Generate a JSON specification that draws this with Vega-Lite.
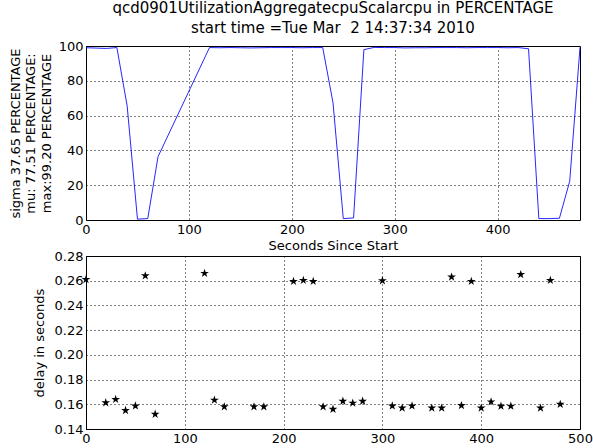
{
  "$schema": "https://vega.github.io/schema/vega-lite/v6.json",
  "padding": {"left": 8, "top": 0, "right": 0, "bottom": 0},
  "spacing": 36,
  "bounds": "flush",
  "config": {
    "font": "DejaVu Sans",
    "view": {"stroke": "black", "strokeWidth": 1},
    "axis": {
      "domain": false,
      "grid": true,
      "gridColor": "black",
      "gridDash": [1, 3],
      "gridOpacity": 1,
      "gridWidth": 1,
      "ticks": false,
      "labelFontSize": 13,
      "labelColor": "black",
      "labelFlush": false,
      "labelOverlap": false,
      "labelPadding": 3,
      "titleFontSize": 13,
      "titleFontWeight": "normal",
      "titleColor": "black"
    },
    "title": {"fontSize": 15, "fontWeight": "normal", "color": "black", "lineHeight": 20}
  },
  "datasets": {
    "cpu": [
      {"t": 0, "v": 99.0}, {"t": 10, "v": 98.8}, {"t": 20, "v": 98.6}, {"t": 30, "v": 99.1},
      {"t": 40, "v": 65.5}, {"t": 50, "v": 0.5}, {"t": 60, "v": 0.8}, {"t": 70, "v": 36.4},
      {"t": 120, "v": 99.1}, {"t": 130, "v": 99.0}, {"t": 140, "v": 99.1}, {"t": 150, "v": 99.0},
      {"t": 160, "v": 98.9}, {"t": 170, "v": 99.0}, {"t": 180, "v": 99.1}, {"t": 190, "v": 99.1},
      {"t": 200, "v": 99.1}, {"t": 210, "v": 99.0}, {"t": 220, "v": 99.1}, {"t": 230, "v": 99.1},
      {"t": 240, "v": 67.4}, {"t": 250, "v": 0.8}, {"t": 260, "v": 1.2}, {"t": 270, "v": 97.9},
      {"t": 280, "v": 99.2}, {"t": 290, "v": 99.1}, {"t": 300, "v": 99.1}, {"t": 310, "v": 98.9},
      {"t": 320, "v": 99.0}, {"t": 330, "v": 99.0}, {"t": 340, "v": 99.1}, {"t": 350, "v": 99.1},
      {"t": 360, "v": 99.1}, {"t": 370, "v": 99.0}, {"t": 380, "v": 99.1}, {"t": 390, "v": 99.1},
      {"t": 400, "v": 99.1}, {"t": 410, "v": 99.0}, {"t": 420, "v": 99.1}, {"t": 430, "v": 98.4},
      {"t": 440, "v": 0.8}, {"t": 450, "v": 0.8}, {"t": 460, "v": 1.0}, {"t": 470, "v": 22.3},
      {"t": 480, "v": 99.2}
    ],
    "delay": [
      {"t": 0, "d": 0.261}, {"t": 20, "d": 0.1613}, {"t": 30, "d": 0.164}, {"t": 40, "d": 0.155},
      {"t": 50, "d": 0.1587}, {"t": 60, "d": 0.264}, {"t": 70, "d": 0.152}, {"t": 120, "d": 0.266},
      {"t": 130, "d": 0.1634}, {"t": 140, "d": 0.158}, {"t": 170, "d": 0.158}, {"t": 180, "d": 0.158},
      {"t": 210, "d": 0.2595}, {"t": 220, "d": 0.2603}, {"t": 230, "d": 0.2595}, {"t": 240, "d": 0.158},
      {"t": 250, "d": 0.156}, {"t": 260, "d": 0.1625}, {"t": 270, "d": 0.161}, {"t": 280, "d": 0.1625},
      {"t": 300, "d": 0.26}, {"t": 310, "d": 0.1587}, {"t": 320, "d": 0.157}, {"t": 330, "d": 0.1587},
      {"t": 350, "d": 0.157}, {"t": 360, "d": 0.157}, {"t": 370, "d": 0.263}, {"t": 380, "d": 0.159},
      {"t": 390, "d": 0.2595}, {"t": 400, "d": 0.157}, {"t": 410, "d": 0.162}, {"t": 420, "d": 0.1585},
      {"t": 430, "d": 0.1585}, {"t": 440, "d": 0.265}, {"t": 460, "d": 0.157}, {"t": 470, "d": 0.2603},
      {"t": 480, "d": 0.160}
    ]
  },
  "vconcat": [
    {
      "width": 494,
      "height": 174,
      "title": {"text": ["qcd0901UtilizationAggregatecpuScalarcpu in PERCENTAGE", "start time =Tue Mar \u00a02 14:37:34 2010"], "anchor": "middle", "offset": 4},
      "data": {"name": "cpu"},
      "mark": {"type": "line", "color": "#0000ff", "strokeWidth": 1, "opacity": 0.85},
      "encoding": {
        "x": {
          "field": "t", "type": "quantitative",
          "scale": {"domain": [0, 480], "nice": false, "zero": false},
          "axis": {"values": [0, 100, 200, 300, 400], "title": "Seconds Since Start", "titlePadding": 3}
        },
        "y": {
          "field": "v", "type": "quantitative",
          "scale": {"domain": [0, 100], "nice": false},
          "axis": {"values": [0, 20, 40, 60, 80, 100], "title": ["sigma 37.65 PERCENTAGE", "mu: 77.51 PERCENTAGE:", "max:99.20 PERCENTAGE"], "titlePadding": 5, "titleLineHeight": 15.5}
        }
      }
    },
    {
      "width": 494,
      "height": 173,
      "data": {"name": "delay"},
      "mark": {
        "type": "point",
        "shape": "M0,-1L0.225,-0.309L0.951,-0.309L0.363,0.118L0.588,0.809L0,0.382L-0.588,0.809L-0.363,0.118L-0.951,-0.309L-0.225,-0.309Z",
        "filled": true,
        "color": "black",
        "size": 85,
        "opacity": 1
      },
      "encoding": {
        "x": {
          "field": "t", "type": "quantitative",
          "scale": {"domain": [0, 500], "nice": false, "zero": false},
          "axis": {"values": [0, 100, 200, 300, 400, 500], "title": null}
        },
        "y": {
          "field": "d", "type": "quantitative",
          "scale": {"domain": [0.14, 0.28], "nice": false, "zero": false},
          "axis": {"values": [0.14, 0.16, 0.18, 0.2, 0.22, 0.24, 0.26, 0.28], "format": ".2f", "title": "delay in seconds", "titlePadding": 8}
        }
      }
    }
  ]
}
